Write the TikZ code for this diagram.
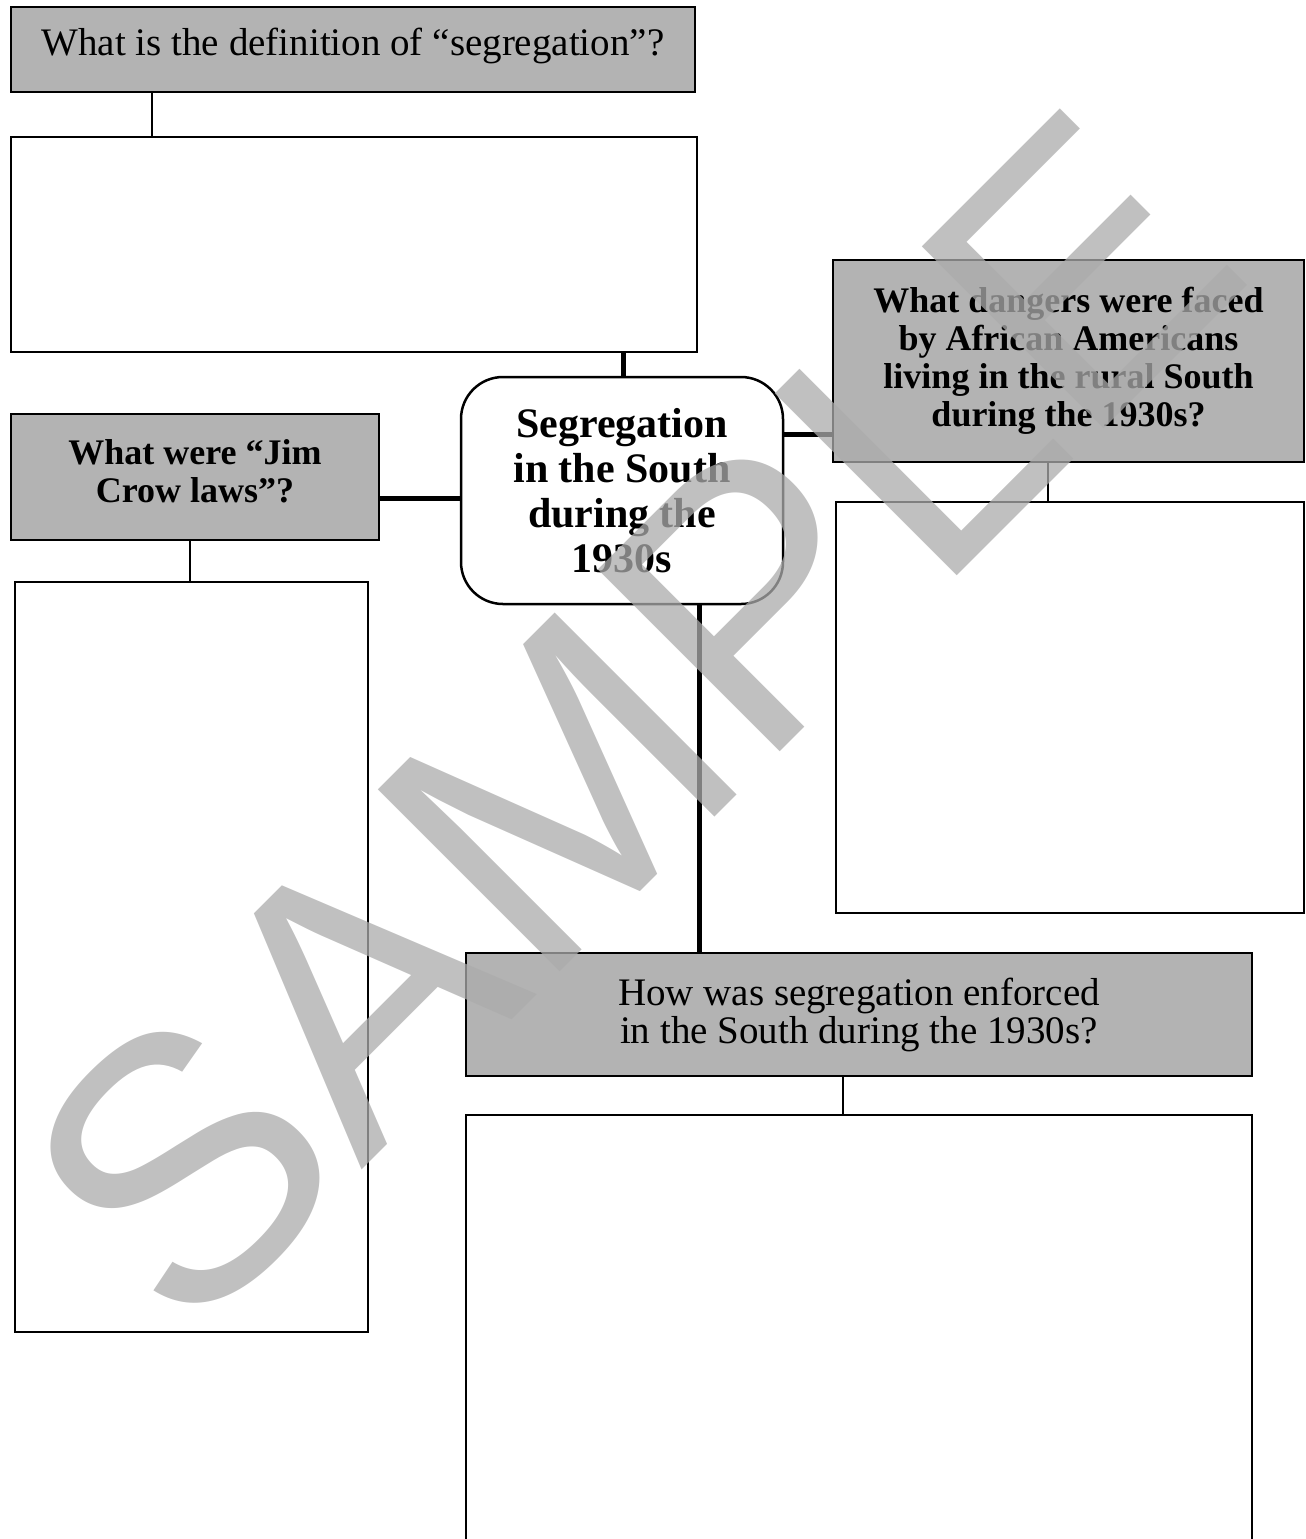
\documentclass[tikz,border=0pt]{standalone}
\usepackage{fontspec}
\setmainfont{Liberation Serif}
\setsansfont{Liberation Sans}
\definecolor{boxgray}{RGB}{179,179,179}
\definecolor{markgray}{RGB}{171,171,171}
\begin{document}
\begin{tikzpicture}[x=0.5pt, y=-0.5pt, line width=1.25pt,
  qbox/.style={draw, fill=boxgray, inner sep=0pt, align=center},
  abox/.style={draw, inner sep=0pt},
  qbold/.style={font=\fontsize{18}{19}\selectfont\bfseries},
  qplain/.style={font=\fontsize{19.5}{19}\selectfont},
  thinlink/.style={line width=1pt},
  thicklink/.style={line width=2.5pt}]
  \useasboundingbox (0,0) rectangle (1306,1539);
  \clip (0,0) rectangle (1306,1539);
  \node[qbox, qplain, text depth=7.8pt, minimum width=342pt, minimum height=42.5pt] (defq) at (353,49.5) {What is the definition of “segregation”?};
  \node[abox, minimum width=343pt, minimum height=107.5pt] (defa) at (354,244.5) {};
  \node[draw, rounded corners=21pt, inner sep=0pt, align=center, minimum width=161pt, minimum height=113.5pt,
        font=\fontsize{21}{22.5}\selectfont\bfseries] (topic) at (622,490.5) {Segregation\\in the South\\during the\\1930s};
  \node[qbox, qbold, text depth=6pt, minimum width=184pt, minimum height=63pt] (jimq) at (195,477) {What were “Jim\\Crow laws”?};
  \node[abox, minimum width=176.5pt, minimum height=375pt] (jima) at (191.5,957) {};
  \node[qbox, qbold, minimum width=235.5pt, minimum height=101pt] (dangq) at (1068.5,361) {What dangers were faced\\by African Americans\\living in the rural South\\during the 1930s?};
  \node[abox, minimum width=234pt, minimum height=205.5pt] (danga) at (1070,707.5) {};
  \node[qbox, qplain, minimum width=393pt, minimum height=61.5pt] (howq) at (859,1014.5) {How was segregation enforced\\in the South during the 1930s?};
  \node[abox, minimum width=393pt, minimum height=242.5pt] (howa) at (859,1357.5) {};
  \draw[thinlink] (defq.south -| 152,0) -- (defa.north -| 152,0);
  \draw[thicklink] (defa.south -| 623,0) -- (topic.north -| 623,0);
  \draw[thicklink] (jimq.east |- 0,498) -- (topic.west |- 0,498);
  \draw[thinlink] (jimq.south -| 190,0) -- (jima.north -| 190,0);
  \draw[thicklink] (topic.east |- 0,434) -- (dangq.west |- 0,434);
  \draw[thinlink] (dangq.south -| 1048,0) -- (danga.north -| 1048,0);
  \draw[thicklink] (topic.south -| 699,0) -- (howq.north -| 699,0);
  \draw[thinlink] (howq.south -| 843,0) -- (howa.north -| 843,0);
  \node[rotate=45, opacity=0.75, text=markgray, inner sep=0pt,
        font=\fontsize{187}{187}\selectfont\sffamily] (mark) at (631,719) {SAMPLE};
\end{tikzpicture}
\end{document}
